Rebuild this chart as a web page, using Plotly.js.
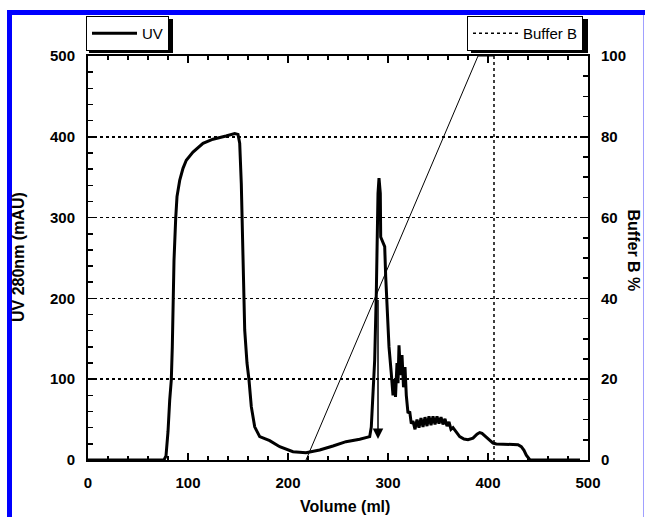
<!DOCTYPE html>
<html>
<head>
<meta charset="utf-8">
<script src="https://cdn.plot.ly/plotly-3.0.1.min.js"></script>
<style>
html,body{margin:0;padding:0;background:#fff;}
#chart{width:645px;height:517px;}
</style>
</head>
<body>
<div id="chart"></div>
<script>
// UV absorbance trace (Volume in ml, UV 280nm in mAU)
var uvVolume = [0,76,78,80,81.7,83.3,84.3,85,86,87.7,89,91.7,95,98.3,105,115,125,138,146.7,150,151.7,153.3,155,156.7,159,161,163.3,166.7,171.7,181.7,191.7,205,218,231.7,245,258,271.7,281.7,283.3,285,286.7,288.3,289,290,291,292.3,292.7,295,296.7,297.7,299,301,303.3,305,306.5,307.5,309,310,311,312.5,314,315.5,317,318.3,320,321.7,323.3,325,327,329,331,333,335,337,339,341,343,345,347,349,351,353,355,357,359,361,363,365,371.7,376,380,385,389,391.7,394,396.7,401.7,405,408.3,425,430,433.3,436,438.3,441,442,492];
var uvValue  = [0,0,5,35,74,99,140,198,247,299,326,346,361,371,381,392,397,401,404,403,392,342,260,161,120,99,66,41,29,24,16.5,10.3,9,12.4,17.3,22.7,25.6,28.9,41,82,124,206,268,330,349,330,276,268,264,227,186,140,107,80,100,78,120,95,142,105,130,90,115,80,58,60,45,48,38,50,40,52,41,53,42,54,43,54,44,54,45,53,44,51,42,47,38,40,29,26,25,27,32,34,33,30,25,21,19.8,19.8,19,16.5,12,6,1,0,0];

// Buffer B gradient (%)
var bufRampVolume = [218,390,406];
var bufRampValue  = [0,100,100];
var bufStepVolume = [406,406];
var bufStepValue  = [100,0];

// Axis ticks
var xTicks = [0,100,200,300,400,500];
var yTicks = [0,100,200,300,400,500];
var y2Ticks = [0,20,40,60,80,100];

var W = 645, H = 517;
var M = {l:88, r:57, t:56, b:57};
var PW = W - M.l - M.r, PH = H - M.t - M.b;
function px2x(px){ return (px - M.l)/PW; }
function py2y(py){ return (H - M.b - py)/PH; }

var FONT = 'Liberation Sans, Arial, Helvetica, sans-serif';

var traces = [
  {x: uvVolume, y: uvValue, type:'scatter', mode:'lines', name:'UV',
   line:{color:'#000', width:3}, legend:'legend'},
  {x: bufRampVolume, y: bufRampValue, type:'scatter', mode:'lines', name:'Buffer B',
   yaxis:'y2', line:{color:'#000', width:1}, showlegend:false},
  {x: bufStepVolume, y: bufStepValue, type:'scatter', mode:'lines', name:'Buffer B',
   yaxis:'y2', line:{color:'#000', width:1.5, dash:'dot'}, legend:'legend2'}
];

var tickFont = {family: FONT, size: 15, color: '#000', weight: 'bold'};
var titleFont = {family: FONT, size: 16, color: '#000', weight: 'bold'};

function shadow(x0, y0, x1, y1){
  return {type: 'rect', xref: 'paper', yref: 'paper', layer: 'above',
    x0: px2x(x0), x1: px2x(x1), y0: py2y(y1), y1: py2y(y0),
    fillcolor: '#000', line: {width: 0}};
}

var layout = {
  width: W, height: H,
  margin: M,
  paper_bgcolor: '#fff', plot_bgcolor: '#fff',
  showlegend: true,
  xaxis: {
    range: [0,500], tickvals: xTicks, ticktext: xTicks.map(String),
    ticks: 'inside', ticklen: 7, tickwidth: 1.5, tickcolor: '#000',
    minor: {dtick: 20, tick0: 0, ticks: 'inside', ticklen: 4, tickwidth: 1.5, tickcolor: '#000'},
    showline: true, linewidth: 2, linecolor: '#000', mirror: 'ticks',
    showgrid: false, zeroline: false, tickfont: tickFont, ticklabelstandoff: 8
  },
  yaxis: {
    range: [0,500], tickvals: yTicks, ticktext: yTicks.map(String),
    ticks: 'inside', ticklen: 8, tickwidth: 1.5, tickcolor: '#000',
    minor: {dtick: 20, tick0: 0, ticks: 'inside', ticklen: 5, tickwidth: 1.5, tickcolor: '#000'},
    showline: true, linewidth: 2, linecolor: '#000',
    showgrid: true, gridcolor: '#000', gridwidth: 1.5, griddash: 'dot',
    zeroline: false, tickfont: tickFont, ticklabelstandoff: 8
  },
  yaxis2: {
    overlaying: 'y', side: 'right', range: [0,100],
    tickvals: y2Ticks, ticktext: y2Ticks.map(String),
    ticks: 'inside', ticklen: 8, tickwidth: 1.5, tickcolor: '#000',
    minor: {dtick: 5, tick0: 0, ticks: 'inside', ticklen: 5, tickwidth: 1.5, tickcolor: '#000'},
    showline: true, linewidth: 2, linecolor: '#000',
    showgrid: false, zeroline: false, tickfont: tickFont, ticklabelstandoff: 8
  },
  legend: {
    x: px2x(86), y: py2y(16), xanchor: 'left', yanchor: 'top',
    bgcolor: '#fff', bordercolor: '#000', borderwidth: 1,
    font: {family: FONT, size: 15, color: '#000'}, itemwidth: 45
  },
  legend2: {
    x: px2x(583), y: py2y(16), xanchor: 'right', yanchor: 'top',
    bgcolor: '#fff', bordercolor: '#000', borderwidth: 1,
    font: {family: FONT, size: 15, color: '#000'}, itemwidth: 45
  },
  annotations: [
    {text: 'UV 280nm (mAU)', textangle: -90, xref: 'paper', yref: 'paper',
     x: px2x(18), y: py2y(257), xanchor: 'center', yanchor: 'middle',
     showarrow: false, font: titleFont},
    {text: 'Buffer B %', textangle: 90, xref: 'paper', yref: 'paper',
     x: px2x(644), y: py2y(250), xanchor: 'right', yanchor: 'middle',
     showarrow: false, font: titleFont},
    {text: 'Volume (ml)', xref: 'paper', yref: 'paper',
     x: px2x(345), y: py2y(517), xanchor: 'center', yanchor: 'bottom',
     showarrow: false, font: titleFont},
    {text: '', x: 290, y: 26, xref: 'x', yref: 'y', ax: 290, ay: 200, axref: 'x', ayref: 'y',
     showarrow: true, arrowhead: 2, arrowsize: 1.4, arrowwidth: 1.5, arrowcolor: '#000'}
  ],
  shapes: [
    {type: 'rect', xref: 'paper', yref: 'paper', layer: 'below',
     x0: px2x(7), x1: px2x(645), y0: py2y(15), y1: py2y(10),
     fillcolor: '#0000ff', line: {width: 0}},
    {type: 'rect', xref: 'paper', yref: 'paper', layer: 'below',
     x0: px2x(7), x1: px2x(12), y0: py2y(517), y1: py2y(10),
     fillcolor: '#0000ff', line: {width: 0}},
    {type: 'rect', xref: 'paper', yref: 'paper', layer: 'below',
     x0: px2x(643), x1: px2x(644), y0: py2y(517), y1: py2y(15),
     fillcolor: '#a0a0ff', line: {width: 0}},
    // legend box drop shadows
    shadow(89, 19, 173, 53),
    shadow(471, 19, 588, 53)
  ]
};

Plotly.newPlot('chart', traces, layout, {staticPlot: true, displayModeBar: false});
</script>
</body>
</html>
